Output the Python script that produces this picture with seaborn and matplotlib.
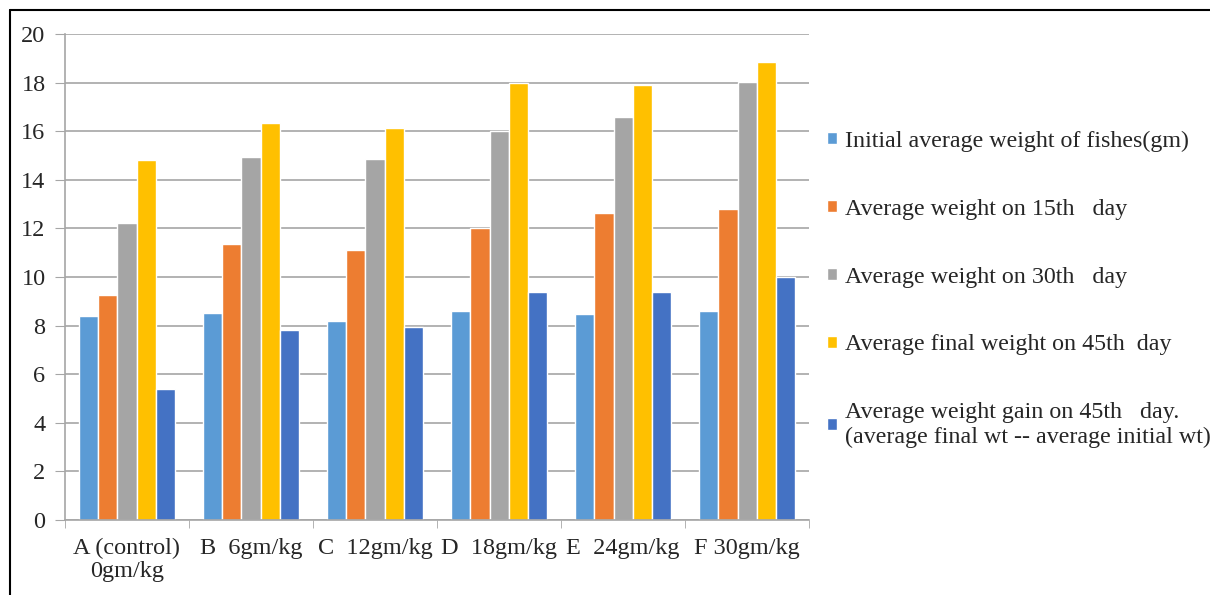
import matplotlib
matplotlib.use("Agg")
import matplotlib.pyplot as plt
from matplotlib.lines import Line2D
import seaborn as sns
import pandas as pd

groups = ['A (control)\n0gm/kg', 'B  6gm/kg', 'C  12gm/kg', 'D  18gm/kg', 'E  24gm/kg', 'F 30gm/kg']
series = ['Initial average weight of fishes(gm)',
          'Average weight on 15th   day',
          'Average weight on 30th   day',
          'Average final weight on 45th  day',
          'Average weight gain on 45th   day.\n(average final wt -- average initial wt)']
initial = [8.40, 8.53, 8.20, 8.59, 8.46, 8.59]
day15 = [9.26, 11.37, 11.11, 12.03, 12.62, 12.81]
day30 = [12.23, 14.94, 14.87, 16.02, 16.58, 18.01]
day45 = [14.80, 16.32, 16.13, 17.98, 17.89, 18.83]
gain = [5.38, 7.81, 7.96, 9.38, 9.38, 10.01]
colors = ['#5B9BD5', '#ED7D31', '#A5A5A5', '#FFC000', '#4472C4']

rows = []
for s, vals in zip(series, [initial, day15, day30, day45, gain]):
    for g, v in zip(groups, vals):
        rows.append({'group': g, 'series': s, 'value': v})
df = pd.DataFrame(rows)

sns.set_style('white')
plt.rcParams['font.family'] = ['Liberation Serif', 'DejaVu Serif']

fig = plt.figure(figsize=(12.1, 5.95), dpi=100)
ax = fig.add_axes([0.0537, 0.126, 0.615, 0.817])

sns.barplot(data=df, x='group', y='value', hue='series', palette=colors,
            order=groups, hue_order=series, width=0.77, saturation=1,
            ax=ax, legend=True)

ax.set_ylim(0, 20)
ax.set_xlim(-0.5, 5.5)
ax.set_yticks(range(0, 21, 2))
ax.grid(axis='y', color='#A6A6A6', linewidth=1.2)
ax.set_axisbelow(True)
ax.set_xlabel('')
ax.set_ylabel('')
for sp in ['top', 'right']:
    ax.spines[sp].set_visible(False)
for sp in ['left', 'bottom']:
    ax.spines[sp].set_color('#A6A6A6')
    ax.spines[sp].set_linewidth(1.2)

ax.tick_params(axis='y', length=7, color='#A6A6A6', labelsize=17.5, pad=7, left=True)
ax.tick_params(axis='x', which='major', length=0, labelsize=17.5, pad=13)
ax.set_xticks([i + 0.5 for i in range(-1, 6)], minor=True)
ax.tick_params(axis='x', which='minor', length=6, color='#A6A6A6', bottom=True)
for t in ax.get_xticklabels():
    t.set_linespacing(1.1)

handles, labels = ax.get_legend_handles_labels()
leg = ax.legend(handles, labels, loc='center left', bbox_to_anchor=(1.024, 0.475),
                frameon=False, fontsize=17.3, handlelength=0.4, handleheight=0.4,
                handletextpad=0.35, labelspacing=1.95, borderaxespad=0, borderpad=0)
for t in leg.get_texts():
    t.set_linespacing(1.2)

fig.add_artist(Line2D([10 / 1210, 1.0], [1 - 10 / 595, 1 - 10 / 595],
                      transform=fig.transFigure, color='black', linewidth=1.5))
fig.add_artist(Line2D([10 / 1210, 10 / 1210], [0, 1 - 10 / 595],
                      transform=fig.transFigure, color='black', linewidth=1.5))

fig.savefig('out.png', dpi=100)
